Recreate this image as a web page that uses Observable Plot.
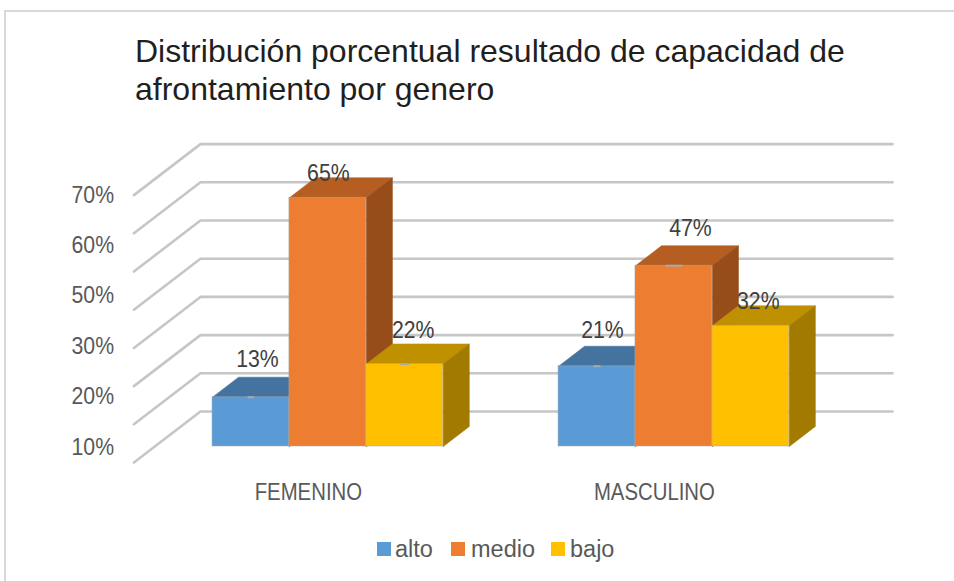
<!DOCTYPE html>
<html lang="es">
<head>
<meta charset="utf-8">
<script src="https://cdn.jsdelivr.net/npm/d3@7"></script>
<script src="https://cdn.jsdelivr.net/npm/@observablehq/plot@0.6"></script>
<style>
  html, body { margin: 0; padding: 0; background: #fff; overflow: hidden; }
  #page { position: relative; width: 954px; height: 581px; font-family: "Liberation Sans", Arial, sans-serif; overflow: hidden; }
  #frame { position: absolute; left: 4px; top: 10px; right: -10px; bottom: -10px; border-left: 2px solid #d9d9d9; border-top: 2px solid #d9d9d9; }
  #title { position: absolute; left: 135px; top: 32px; width: 800px; margin: 0; font-weight: 400; font-size: 32px; line-height: 38px; color: #1f1f1f; white-space: nowrap; }
  #legend { position: absolute; top: 534px; left: 0; width: 954px; height: 30px; font-size: 23.5px; color: #595959; }
  #legend span { position: absolute; top: 0; line-height: 30px; }
  #legend i { position: absolute; top: 8px; width: 14px; height: 14px; }
  svg { position: absolute; left: 0; top: 0; }
</style>
</head>
<body>
<div id="page">
  <div id="frame"></div>
  <div id="chart"></div>
  <h2 id="title"></h2>
  <div id="legend"></div>
</div>
<script>
const titleLines = ["Distribución porcentual resultado de capacidad de", "afrontamiento por genero"];
const groups = ["FEMENINO", "MASCULINO"];
const series = ["alto", "medio", "bajo"];
const alto = [12.9, 21];
const medio = [65.1, 47.3];
const bajo = [21.6, 31.6];
const gridValues = [0, 10, 20, 30, 40, 50, 60, 70];
const tickLabels = ["10%", "20%", "30%", "50%", "60%", "70%"];
const tickLabelValues = [-0.2, 13.1, 26.2, 39.6, 52.7, 65.8];

/* layout */
const colors = {
  alto:  {front: "#5b9bd5", top: "#44739f", side: "#3a6591"},
  medio: {front: "#ed7d31", top: "#b65e22", side: "#964d1a"},
  bajo:  {front: "#ffc000", top: "#bf9000", side: "#a27a00"}
};
const groupStep = 4.5;
const depthX = 0.865, depthY = 13.35;   // one unit of depth in slot and value units
const barDepth = 0.392, wallDepth = 0.686, floorDepth = -0.314;
const leftEdge = -0.75, rightEdge = 8.25;
const labelNudge = [[[6.5, -37.5], [0.5, -24.5], [8.5, -33.5]], [[5.5, -35.5], [16.5, -38], [7.5, -24]]];
const dashWidth = [[0.07, 0, 0.1], [0.07, 0.2, 0]];

const values = {alto, medio, bajo};
const project = (slot, value, depth) => ({x: slot + depth * depthX, y: value + depth * depthY});
const face = (pts, fill) => Plot.line(pts.concat([pts[0]]), {x: "x", y: "y", fill, stroke: fill, strokeWidth: 0.6, curve: "linear"});

const marks = [];
for (const v of gridValues) {
  marks.push(Plot.line([project(leftEdge, v, floorDepth), project(leftEdge, v, wallDepth), project(rightEdge, v, wallDepth)],
    {x: "x", y: "y", stroke: "#c6c6c6", strokeWidth: 2.6}));
}
groups.forEach((g, i) => {
  series.forEach((s, j) => {
    const a = i * groupStep + j, b = a + 1, v = values[s][i], c = colors[s];
    marks.push(face([project(a, v, 0), project(b, v, 0), project(b, v, barDepth), project(a, v, barDepth)], c.top));
    marks.push(face([project(b, 0, 0), project(b, v, 0), project(b, v, barDepth), project(b, 0, barDepth)], c.side));
    marks.push(Plot.rect([{a, b, v}], {x1: "a", x2: "b", y1: 0, y2: "v", fill: c.front, stroke: "#a8a8a8", strokeWidth: 1, strokeOpacity: 0.5}));
    if (dashWidth[i][j]) {
      const m = a + 0.5;
      marks.push(Plot.line([{x: m - dashWidth[i][j] / 2, y: v}, {x: m + dashWidth[i][j] / 2, y: v}], {x: "x", y: "y", stroke: "#a9a9a9", strokeWidth: 2}));
    }
  });
});
groups.forEach((g, i) => {
  series.forEach((s, j) => {
    const [dx, dy] = labelNudge[i][j];
    marks.push(Plot.text([{x: i * groupStep + j + 0.5, y: values[s][i], t: Math.round(values[s][i]) + "%"}],
      {x: "x", y: "y", text: "t", dx, dy, fontSize: 24, fill: "#404040", textAnchor: "middle", lineAnchor: "middle"}));
  });
});
marks.push(Plot.text(tickLabels.map((t, k) => ({t, y: tickLabelValues[k]})),
  {x: -1.28, y: "y", text: "t", fontSize: 24, fill: "#595959", textAnchor: "end", lineAnchor: "middle"}));
marks.push(Plot.text(groups.map((t, i) => ({t, x: i * groupStep + 1.5})),
  {x: "x", y: -12, text: "t", dx: -19.5, fontSize: 23, fill: "#595959", textAnchor: "middle", lineAnchor: "middle"}));

const plot = Plot.plot({
  width: 954, height: 581, margin: 0,
  x: {type: "linear", domain: [0, 1], range: [212, 288.9], axis: null},
  y: {type: "linear", domain: [0, 70], range: [446, 178.6], axis: null},
  style: {background: "transparent", fontFamily: '"Liberation Sans", Arial, sans-serif'},
  marks
});
document.getElementById("chart").append(plot);

plot.querySelectorAll("text").forEach(t => {
  t.setAttribute("textLength", (t.getComputedTextLength() * 0.885).toFixed(1));
  t.setAttribute("lengthAdjust", "spacingAndGlyphs");
});

document.getElementById("title").innerHTML = titleLines.join("<br>");

const legendLayout = [[377, 395], [451, 471], [551, 570]];
const legend = document.getElementById("legend");
series.forEach((s, j) => {
  const sw = document.createElement("i");
  sw.style.left = legendLayout[j][0] + "px";
  sw.style.background = colors[s].front;
  const tx = document.createElement("span");
  tx.style.left = legendLayout[j][1] + "px";
  tx.textContent = s;
  legend.append(sw, tx);
});
</script>
</body>
</html>
